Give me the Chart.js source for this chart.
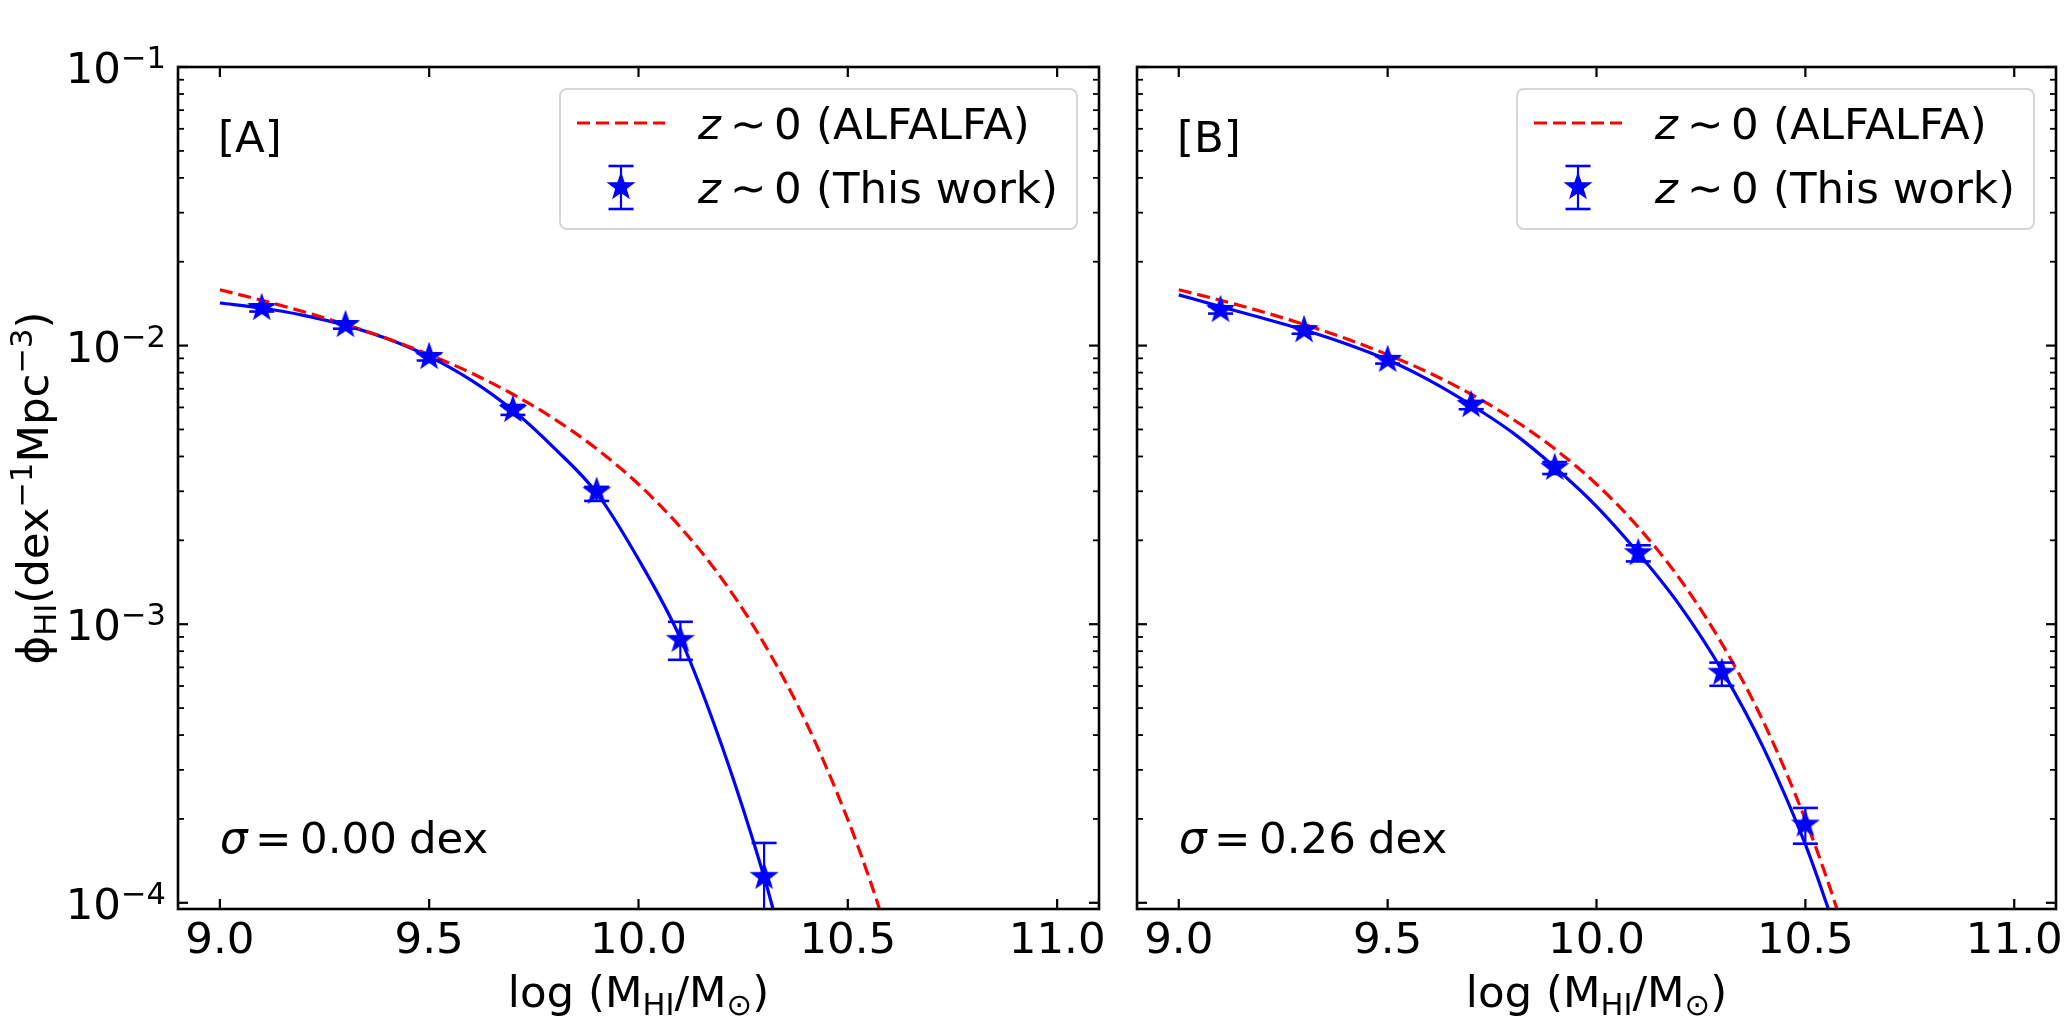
<!DOCTYPE html>
<html>
<head>
<meta charset="utf-8">
<script src="https://cdn.jsdelivr.net/npm/chart.js@4.4.0/dist/chart.umd.min.js"></script>
<style>
  html, body { margin: 0; padding: 0; background: #fff; }
  body { width: 2070px; height: 1030px; position: relative; overflow: hidden; }
  canvas { position: absolute; top: 0; }
  #panelA { left: 0; }
  #panelB { left: 1118px; }
</style>
</head>
<body>
<canvas id="panelA" width="1118" height="1030"></canvas>
<canvas id="panelB" width="952" height="1030"></canvas>
<script>
// ---- data ----
const xTicks = [9.0, 9.5, 10.0, 10.5, 11.0];
const yTicks = [1e-1, 1e-2, 1e-3, 1e-4];

// ALFALFA mass function (red dashed, same in both panels)
const alfalfaX = [9.0, 9.1, 9.2, 9.3, 9.4, 9.5, 9.6, 9.7, 9.8, 9.9, 10.0, 10.1, 10.2, 10.3, 10.4, 10.5, 10.55, 10.6];
const alfalfaPhi = [0.01587, 0.01454, 0.01323, 0.01191, 0.01060, 0.00928, 0.00798, 0.00669, 0.00544, 0.00426,
                    0.00318, 0.00223, 0.00145, 0.000852, 0.000445, 0.000199, 0.000124, 0.0000734];

// panel A, sigma = 0.00 dex
const binsA = [9.1, 9.3, 9.5, 9.7, 9.9, 10.1, 10.3];
const phiA = [0.01365, 0.01186, 0.00911, 0.00588, 0.00299, 0.000879, 0.000124];
const phiAHi = [0.01405, 0.01222, 0.00938, 0.00612, 0.00311, 0.00102, 0.000164];
const phiALo = [0.01325, 0.01150, 0.00884, 0.00564, 0.00277, 0.000745, 0.00008];
const fitAX = [9.0, 9.1, 9.2, 9.3, 9.4, 9.5, 9.6, 9.7, 9.8, 9.9, 10.0, 10.1, 10.2, 10.3, 10.33];
const fitAPhi = [0.01422, 0.01364, 0.01284, 0.01182, 0.01058, 0.00913, 0.00752, 0.00586, 0.00427, 0.00296,
                 0.00171, 0.00089, 0.000363, 0.000124, 0.000085];

// panel B, sigma = 0.26 dex
const binsB = [9.1, 9.3, 9.5, 9.7, 9.9, 10.1, 10.3, 10.5];
const phiB = [0.01343, 0.01137, 0.00889, 0.00612, 0.00364, 0.00180, 0.00067, 0.000191];
const phiBHi = [0.01383, 0.01171, 0.00916, 0.00633, 0.00382, 0.00192, 0.000728, 0.000219];
const phiBLo = [0.01303, 0.01103, 0.00862, 0.00591, 0.00346, 0.00168, 0.000601, 0.000163];
const fitBX = [9.0, 9.1, 9.2, 9.3, 9.4, 9.5, 9.6, 9.7, 9.8, 9.9, 10.0, 10.1, 10.2, 10.3, 10.4, 10.5, 10.55, 10.6];
const fitBPhi = [0.01521, 0.01380, 0.01256, 0.01138, 0.01016, 0.00889, 0.00750, 0.00612, 0.00486, 0.00366,
                 0.00265, 0.00180, 0.001164, 0.000684, 0.000359, 0.000162, 0.000100, 0.0000596];

// ---- style ----
const FONT = '"DejaVu Sans"';
const MAIN = '43.5px ' + FONT;
const SMALL = '30.5px ' + FONT;
const ITAL = 'italic 43.5px ' + FONT;
const BLUE = '#0000ff';
const RED = '#ff0000';

function makeStar(R) {
  const c = document.createElement('canvas');
  const s = Math.ceil(R * 2 + 4);
  c.width = c.height = s;
  const g = c.getContext('2d');
  g.translate(s / 2, s / 2);
  g.beginPath();
  for (let k = 0; k < 10; k++) {
    const r = k % 2 ? R * 0.4 : R;
    const t = -Math.PI / 2 + k * Math.PI / 5;
    if (k === 0) g.moveTo(r * Math.cos(t), r * Math.sin(t));
    else g.lineTo(r * Math.cos(t), r * Math.sin(t));
  }
  g.closePath();
  g.fillStyle = BLUE;
  g.fill();
  g.strokeStyle = BLUE;
  g.lineWidth = 1.5;
  g.stroke();
  return c;
}
const starImg = makeStar(13);

function line(ctx, x1, y1, x2, y2) {
  ctx.beginPath();
  ctx.moveTo(x1, y1);
  ctx.lineTo(x2, y2);
  ctx.stroke();
}

// draws a row of [text, font, baseline shift] pieces, returns width
function pieces(ctx, parts, x, y, draw) {
  let w = 0;
  parts.forEach(p => {
    ctx.font = p[1];
    if (draw) ctx.fillText(p[0], x + w, y + p[2]);
    w += ctx.measureText(p[0]).width;
  });
  return w;
}

function makeDeco(cfg) {
  return {
    id: 'deco' + cfg.tag,
    beforeDatasetDraw(chart, args) {
      if (args.index !== 0) return;
      const { ctx, chartArea: a, scales: { x, y } } = chart;
      ctx.save();
      ctx.beginPath();
      ctx.rect(a.left, a.top, a.width, a.height);
      ctx.clip();
      ctx.strokeStyle = BLUE;
      cfg.bins.forEach((b, i) => {
        const px = x.getPixelForValue(b);
        const top = y.getPixelForValue(cfg.hi[i]);
        const bot = y.getPixelForValue(cfg.lo[i]);
        ctx.lineWidth = 2.2;
        line(ctx, px, top, px, bot);
        ctx.lineWidth = 2.6;
        line(ctx, px - 12.5, top, px + 12.5, top);
        line(ctx, px - 12.5, bot, px + 12.5, bot);
      });
      ctx.restore();
    },
    afterDatasetsDraw(chart) {
      const { ctx, chartArea: a, scales: { x, y } } = chart;
      ctx.save();
      ctx.fillStyle = '#000';
      ctx.strokeStyle = '#000';
      ctx.textBaseline = 'alphabetic';

      // inward ticks on all four sides
      ctx.lineWidth = 2.2;
      xTicks.forEach(v => {
        const px = x.getPixelForValue(v);
        line(ctx, px, a.bottom, px, a.bottom - 10);
        line(ctx, px, a.top, px, a.top + 10);
      });
      yTicks.forEach(v => {
        const py = y.getPixelForValue(v);
        line(ctx, a.left, py, a.left + 10, py);
        line(ctx, a.right, py, a.right - 10, py);
      });
      ctx.lineWidth = 1.8;
      [1e-5, 1e-4, 1e-3, 1e-2].forEach(d => {
        for (let k = 2; k <= 9; k++) {
          const v = k * d;
          if (v <= y.min || v >= y.max) continue;
          const py = y.getPixelForValue(v);
          line(ctx, a.left, py, a.left + 6, py);
          line(ctx, a.right, py, a.right - 6, py);
        }
      });

      // spines
      ctx.lineWidth = 2.6;
      ctx.strokeRect(a.left, a.top, a.right - a.left, a.bottom - a.top);

      // x tick labels
      ctx.font = MAIN;
      ctx.textAlign = 'center';
      xTicks.forEach(v => ctx.fillText(v.toFixed(1), x.getPixelForValue(v), a.bottom + 44));
      ctx.textAlign = 'left';

      // x title
      const xt = [['log (M', MAIN, 0], ['HI', SMALL, 8], ['/M', MAIN, 0], ['\u2299', SMALL, 8], [')', MAIN, 0]];
      const xw = pieces(ctx, xt, 0, 0, false);
      pieces(ctx, xt, (a.left + a.right) / 2 - xw / 2, 1007, true);

      if (cfg.yLabels) {
        yTicks.forEach(v => {
          const py = y.getPixelForValue(v);
          const e = Math.round(Math.log10(v));
          ctx.font = MAIN;
          ctx.textAlign = 'right';
          ctx.fillText('10', a.left - 57, py + 16);
          ctx.font = SMALL;
          ctx.textAlign = 'left';
          ctx.fillText('\u2212' + (-e), a.left - 57, py + 1);
        });
        const yt = [['\u03d5', MAIN, 0], ['HI', SMALL, 8], ['(dex', MAIN, 0], ['\u22121', SMALL, -16],
                    ['Mpc', MAIN, 0], ['\u22123', SMALL, -16], [')', MAIN, 0]];
        const yw = pieces(ctx, yt, 0, 0, false);
        ctx.save();
        ctx.translate(48, (a.top + a.bottom) / 2);
        ctx.rotate(-Math.PI / 2);
        pieces(ctx, yt, -yw / 2, 0, true);
        ctx.restore();
      }

      // panel tag and sigma
      ctx.font = MAIN;
      ctx.fillText(cfg.tag, a.left + 40, a.top + 85);
      const sy = a.bottom - 56;
      ctx.font = ITAL;
      ctx.fillText('\u03c3', a.left + 42, sy);
      ctx.font = MAIN;
      ctx.fillText('=', a.left + 77, sy);
      ctx.fillText(cfg.sigma, a.left + 122, sy);
      ctx.fillText('dex', a.left + 231, sy);

      // legend box
      const bw = 517, bh = 140;
      const bx = a.right - 22 - bw, by = a.top + 22, r = 7;
      ctx.beginPath();
      ctx.moveTo(bx + r, by);
      ctx.arcTo(bx + bw, by, bx + bw, by + bh, r);
      ctx.arcTo(bx + bw, by + bh, bx, by + bh, r);
      ctx.arcTo(bx, by + bh, bx, by, r);
      ctx.arcTo(bx, by, bx + bw, by, r);
      ctx.closePath();
      ctx.fillStyle = 'rgba(255,255,255,0.8)';
      ctx.fill();
      ctx.strokeStyle = '#d6d6d6';
      ctx.lineWidth = 2;
      ctx.stroke();

      // legend samples
      ctx.strokeStyle = RED;
      ctx.lineWidth = 3.2;
      ctx.setLineDash([13, 6]);
      line(ctx, bx + 17, by + 34, bx + 105, by + 34);
      ctx.setLineDash([]);
      const sx = bx + 61, syL = by + 98;
      ctx.strokeStyle = BLUE;
      ctx.lineWidth = 2.2;
      line(ctx, sx, by + 77, sx, by + 120);
      ctx.lineWidth = 2.6;
      line(ctx, sx - 12.5, by + 77, sx + 12.5, by + 77);
      line(ctx, sx - 12.5, by + 120, sx + 12.5, by + 120);
      ctx.drawImage(starImg, sx - starImg.width / 2, syL - starImg.height / 2);

      // legend text
      ctx.fillStyle = '#000';
      [['(ALFALFA)', by + 50], ['(This work)', by + 114]].forEach(t => {
        ctx.font = ITAL;
        ctx.fillText('z', bx + 138, t[1]);
        ctx.font = MAIN;
        ctx.fillText('\u223c', bx + 170, t[1]);
        ctx.fillText('0', bx + 214, t[1]);
        ctx.fillText(t[0], bx + 256, t[1]);
      });
      ctx.restore();
    }
  };
}

function makeChart(id, cfg) {
  return new Chart(document.getElementById(id), {
    type: 'scatter',
    data: {
      datasets: [
        {
          label: 'z ~ 0 (This work)',
          data: cfg.bins.map((b, i) => ({ x: b, y: cfg.phi[i] })),
          pointStyle: starImg,
          pointRadius: 13,
          showLine: false,
          clip: 0
        },
        {
          label: 'z ~ 0 (ALFALFA)',
          data: alfalfaX.map((m, i) => ({ x: m, y: alfalfaPhi[i] })),
          showLine: true,
          borderColor: RED,
          borderWidth: 3.2,
          borderDash: [13, 6],
          pointRadius: 0,
          cubicInterpolationMode: 'monotone',
          clip: 0
        },
        {
          label: 'fit',
          data: cfg.fitX.map((m, i) => ({ x: m, y: cfg.fitPhi[i] })),
          showLine: true,
          borderColor: BLUE,
          borderWidth: 3.2,
          pointRadius: 0,
          cubicInterpolationMode: 'monotone',
          clip: 0
        }
      ]
    },
    options: {
      responsive: false,
      devicePixelRatio: 1,
      animation: false,
      events: [],
      layout: { padding: cfg.pad },
      plugins: { legend: { display: false }, tooltip: { enabled: false } },
      scales: {
        x: { type: 'linear', min: 8.9, max: 11.1, display: false },
        y: { type: 'logarithmic', min: 9.5e-5, max: 0.1, display: false }
      }
    },
    plugins: [makeDeco(cfg)]
  });
}

makeChart('panelA', {
  tag: '[A]', sigma: '0.00', yLabels: true,
  bins: binsA, phi: phiA, hi: phiAHi, lo: phiALo, fitX: fitAX, fitPhi: fitAPhi,
  pad: { left: 178, right: 19, top: 67, bottom: 121 }
});
makeChart('panelB', {
  tag: '[B]', sigma: '0.26', yLabels: false,
  bins: binsB, phi: phiB, hi: phiBHi, lo: phiBLo, fitX: fitBX, fitPhi: fitBPhi,
  pad: { left: 19, right: 13, top: 67, bottom: 121 }
});
</script>
</body>
</html>
